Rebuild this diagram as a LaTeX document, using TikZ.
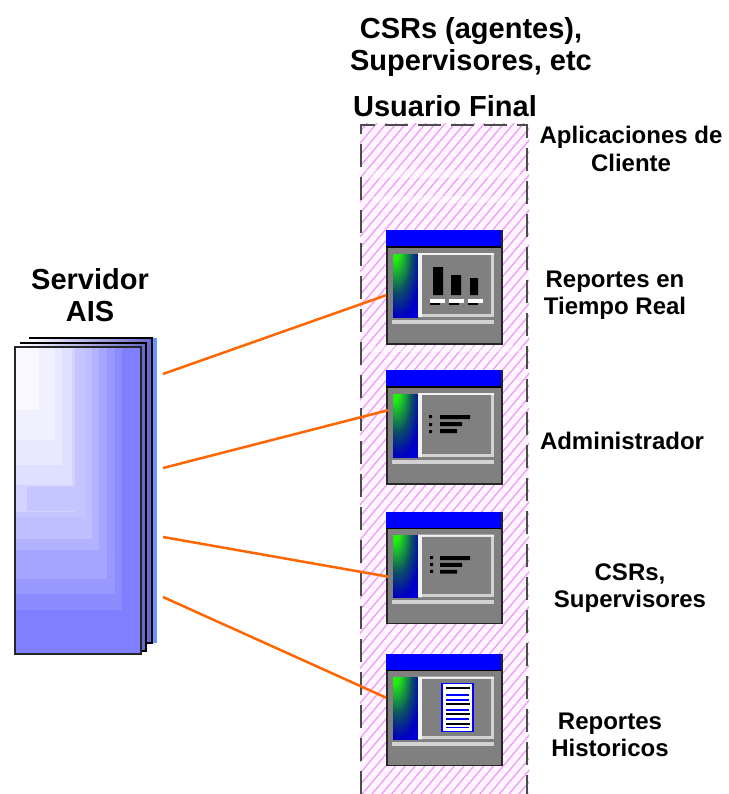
\documentclass[tikz,border=0pt]{standalone}
\usepackage{fontspec}
\setmainfont{Liberation Sans}
\usetikzlibrary{patterns.meta}
\definecolor{serverblue}{HTML}{7F7FFF}
\definecolor{serverback}{HTML}{6666C8}
\definecolor{hatchpink}{HTML}{E9A0F2}
\definecolor{panelpink}{HTML}{FFF4FF}
\definecolor{wingray}{HTML}{808080}
\definecolor{glowgreen}{HTML}{22EE10}
\definecolor{linkorange}{HTML}{FF6600}
\pgfdeclareradialshading{winglow}{\pgfpoint{-25bp}{35bp}}{color(0bp)=(glowgreen); color(11bp)=(glowgreen); color(30bp)=(glowgreen!45!blue!70!black); color(44bp)=(blue!75!black); color(60bp)=(blue); color(100bp)=(blue)}
\tikzset{
  bigtext/.style={font=\fontsize{29}{32}\selectfont\bfseries, align=center},
  smalltext/.style={font=\fontsize{24}{27.5}\selectfont\bfseries, align=center},
  appbox/.style={draw=black!85, line width=1.5pt, fill=wingray, minimum width=115pt, anchor=north west, inner sep=0pt},
  link/.style={draw=linkorange, line width=2.5pt},
  sheet/.style={draw=black, line width=1.5pt, left color=white, right color=serverback}
}
% window with title bar, side bar and an inner panel
\newcommand{\appwin}[4][1]{
  \node[appbox, minimum height=#1*113pt] (#2) at (#3) {};
  \begin{scope}[shift={(#3)}, yscale=#1]
    \fill[blue] (0,0) rectangle (115,17);
    \draw[black, line width=1.5pt] (0,17) -- (115,17);
    \shade[shading=winglow] (7,24) rectangle (32,87);
    \fill[white!65!gray] (32,23) rectangle (108,87);
    \fill[white!90!gray] (32,23) rectangle (36,87) (32,23) rectangle (108,25);
    \fill[wingray] (36,25) rectangle (105,84);
    \fill[white!65!gray] (6,90) rectangle (108,94);
    #4
  \end{scope}
}
\begin{document}
\begin{tikzpicture}[x=1pt,y=-1pt]
\useasboundingbox (0,0) rectangle (728,794);
%\draw[help lines] (0,0) grid[step=100] (728,794);
% end user panel
\fill[panelpink] (360,124) rectangle (529,794);
\fill[pattern={Lines[angle=50,distance=7.5pt,line width=1.3pt]}, pattern color=hatchpink] (360,124) rectangle (529,794);
\fill[white, opacity=0.4] (366,170) rectangle (520,178) (372,196) rectangle (522,203) (366,346) rectangle (520,352);
\draw[black!70, line width=2pt, dash pattern=on 23pt off 10pt] (361,794) -- (361,125) -- (527,125) -- (527,794);
% server sheets
\fill[serverblue!80!cyan] (152,338) rectangle (157,643);
\draw[sheet] (29,338) -- (152,338) -- (152,643) -- (146,643);
\draw[sheet] (20,343) -- (146,343) -- (146,651) -- (141,651);
\fill[serverblue] (15,347) rectangle (141,654);
\foreach \r/\b/\c in {107/263/90,100/247/80,92/232/70,84/203/60,77/192/50,70/170/45,60/165/35,57/138/25,47/118/18,40/93/12,24/63/5}
  \fill[serverblue!\c!white] (15,347) rectangle ++(\r,\b);
\fill[serverblue!45!white] (27,487) rectangle ++(48,24);
\draw[black!85, line width=1.5pt] (15,347) rectangle (141,654);
% application windows
\appwin{win1}{386,230}{
  \fill[black] (47,37) rectangle (57,65) (65,45) rectangle (75,65) (84,48) rectangle (92,65);
  \foreach \x in {44,63,82} {
    \fill[white] (\x,69) rectangle ++(15,4);
    \fill[black] (\x,73) rectangle ++(10,1.5);
  }
}
\appwin{win2}{386,370}{
  \fill[black] (43,45) rectangle ++(3,3) (43,53) rectangle ++(3,3) (43,60) rectangle ++(3,3);
  \fill[black] (54,45) rectangle ++(30,4) (54,52) rectangle ++(22,4) (54,59) rectangle ++(17,4);
}
\appwin[0.98]{win3}{386,512}{
  \fill[black] (44,45) rectangle ++(3,3) (44,52) rectangle ++(3,3) (44,59) rectangle ++(3,3);
  \fill[black] (54,45) rectangle ++(30,4) (54,52) rectangle ++(22,4) (54,59) rectangle ++(17,4);
}
\appwin[0.98]{win4}{386,654}{
  \draw[blue, line width=1.5pt, fill=white] (56,30) rectangle (87,79);
  \foreach \y in {34,50,60,70} \fill[black] (60,\y) rectangle (84,\y+2);
  \foreach \y in {41,46,56,65,74} \fill[blue] (60,\y) rectangle (83,\y+2);
}
% connectors
\coordinate (srv1) at (163,374);
\coordinate (srv2) at (163,468);
\coordinate (srv3) at (163,537);
\coordinate (srv4) at (163,597);
\draw[link] (srv1) -- ([yshift=-8pt]win1.west);
\draw[link] (srv2) -- ([yshift=17pt,xshift=2pt]win2.west);
\draw[link] (srv3) -- ([yshift=-8.5pt,xshift=2pt]win3.west);
\draw[link] (srv4) -- ([yshift=12.5pt]win4.west);
% labels
\node[bigtext] (title) at (471,47) {CSRs (agentes),\\Supervisores, etc};
\node[bigtext] (user) at (445,106) {Usuario Final};
\node[bigtext] (server) at (90,295) {Servidor\\AIS};
\node[smalltext] (apps) at (631,149) {Aplicaciones de\\Cliente};
\node[smalltext] (rtime) at (615,295) {Reportes en\\Tiempo Real};
\node[smalltext] (admin) at (622,441) {Administrador};
\node[smalltext] (csrs) at (630,588) {CSRs,\\Supervisores};
\node[smalltext] (hist) at (610,735) {Reportes\\Historicos};
\end{tikzpicture}
\end{document}
